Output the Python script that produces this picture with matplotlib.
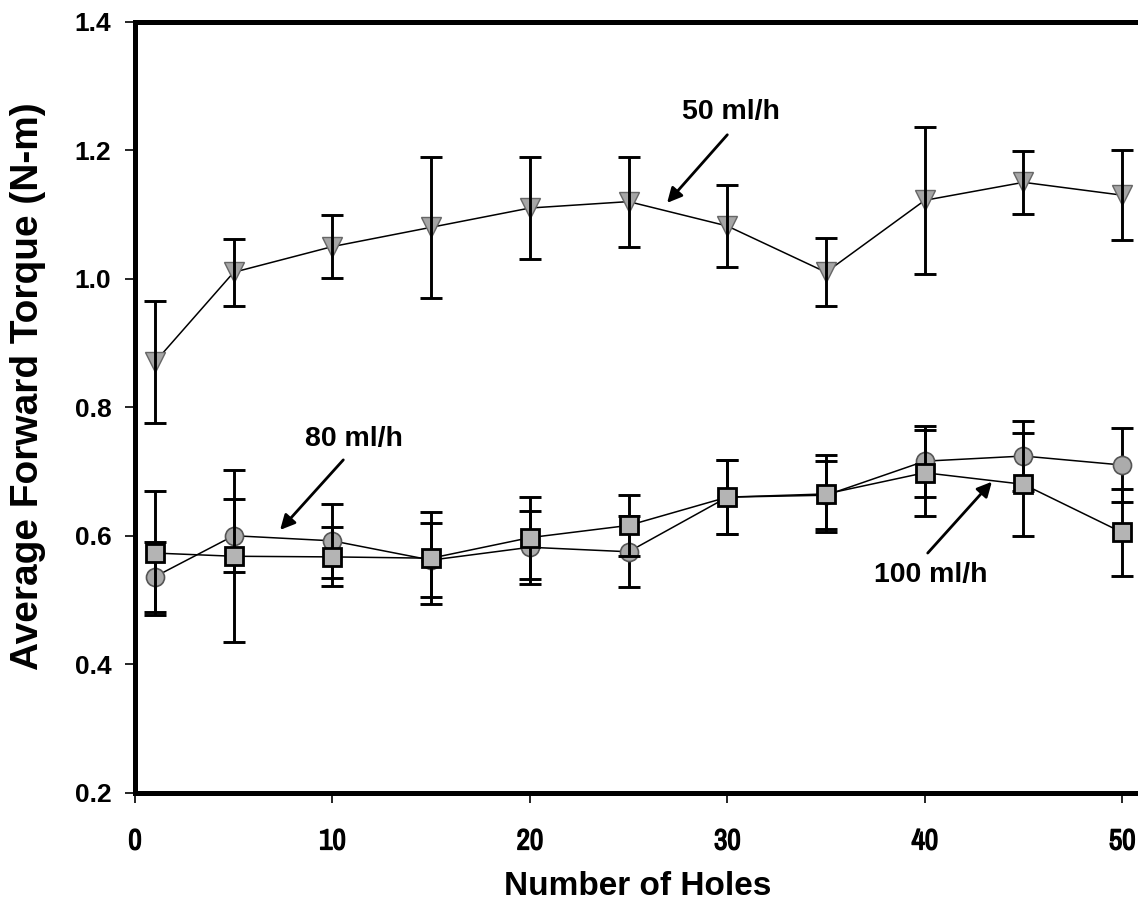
import matplotlib
matplotlib.use("Agg")
import matplotlib.pyplot as plt
from matplotlib import font_manager
import matplotlib.patheffects as pe

# ---------------- data ----------------
holes = [1, 5, 10, 15, 20, 25, 30, 35, 40, 45, 50]

torque_50 = [0.870, 1.010, 1.050, 1.080, 1.110, 1.120, 1.082, 1.010, 1.122, 1.150, 1.130]
err_50 = [0.095, 0.052, 0.049, 0.110, 0.080, 0.070, 0.064, 0.053, 0.114, 0.049, 0.070]

torque_80 = [0.536, 0.600, 0.592, 0.562, 0.582, 0.575, 0.660, 0.663, 0.716, 0.724, 0.710]
err_80 = [0.054, 0.057, 0.058, 0.057, 0.057, 0.055, 0.058, 0.053, 0.055, 0.055, 0.058]

torque_100 = [0.573, 0.568, 0.567, 0.565, 0.597, 0.616, 0.660, 0.665, 0.698, 0.680, 0.605]
err_100 = [0.096, 0.134, 0.046, 0.072, 0.064, 0.048, 0.058, 0.060, 0.067, 0.080, 0.068]

x_ticks = [0, 10, 20, 30, 40, 50]
y_ticks = [0.2, 0.4, 0.6, 0.8, 1.0, 1.2, 1.4]

# ---------------- fonts ----------------
avail = {f.name for f in font_manager.fontManager.ttflist}
sans = "Liberation Sans" if "Liberation Sans" in avail else "DejaVu Sans"
narrow = sans
for cand in ["Liberation Sans Narrow", "Arial Narrow", "Archivo Narrow",
             "Roboto Condensed", "Barlow Semi Condensed"]:
    if cand in avail:
        narrow = cand
        break

fig = plt.figure(figsize=(11.38, 9.22), dpi=100)
ax = fig.add_axes([135 / 1138, 1 - 792.7 / 922, 1 - 135 / 1138, (792.7 - 21.7) / 922])

ax.set_xlim(0, 50.8)
ax.set_ylim(0.2, 1.4)

line_kw = dict(color="black", lw=1.1)
eb_kw = dict(fmt="none", ecolor="black", elinewidth=2.1, capsize=8, capthick=2.1)

# 80 ml/h (circles)
ax.errorbar(holes, torque_80, yerr=err_80, zorder=2, **eb_kw)
ax.plot(holes, torque_80, marker="o", ms=13, mfc="#ababab", mec="#555555", mew=1.2,
        zorder=3, **line_kw)

# 100 ml/h (squares)
ax.errorbar(holes, torque_100, yerr=err_100, zorder=4, **eb_kw)
ax.plot(holes, torque_100, marker="s", ms=13, mfc="#b4b4b4", mec="black", mew=2.0,
        zorder=5, **line_kw)

# 50 ml/h (triangles)
ax.plot(holes, torque_50, marker="v", ms=14, mfc="#a6a6a6", mec="#666666", mew=1.0,
        zorder=5, **line_kw)
ax.errorbar(holes, torque_50, yerr=err_50, zorder=6, **eb_kw)

# annotations
arrow = dict(arrowstyle="-|>", color="black", lw=2.0, mutation_scale=22, shrinkA=0, shrinkB=0)
ann_font = dict(family=sans, fontsize=20.5, fontweight="bold", ha="center", va="center")

ax.text(30.2, 1.259, "50 ml/h", **ann_font)
ax.annotate("", xy=(26.95, 1.118), xytext=(30.0, 1.224), arrowprops=arrow)

ax.text(11.1, 0.750, "80 ml/h", **ann_font)
ax.annotate("", xy=(7.35, 0.609), xytext=(10.55, 0.718), arrowprops=arrow)

ax.text(40.3, 0.539, "100 ml/h", **ann_font)
ax.annotate("", xy=(43.4, 0.684), xytext=(40.15, 0.573), arrowprops=arrow)

# axes styling
for side in ["left", "bottom", "top"]:
    ax.spines[side].set_linewidth(3.6)
ax.spines["right"].set_visible(False)

ax.set_xticks(x_ticks)
ax.set_yticks(y_ticks)
ax.set_yticklabels([f"{v:.1f}" for v in y_ticks], family=sans, fontsize=19, fontweight="bold")
ax.set_xticklabels([str(v) for v in x_ticks], family=narrow, fontsize=21, fontweight="bold")
if narrow != sans:
    for lbl in ax.get_xticklabels():
        lbl.set_path_effects([pe.withStroke(linewidth=1.0, foreground="black")])
ax.tick_params(axis="both", direction="out", length=7, width=1.2, top=False, right=False)
ax.tick_params(axis="y", pad=10)
ax.tick_params(axis="x", pad=18)

ax.set_xlabel("Number of Holes", family=sans, fontsize=24, fontweight="bold")
ax.xaxis.set_label_coords((638 - 135) / 1003, (792.7 - 895) / 771)
ax.xaxis.label.set_va("baseline")

ax.set_ylabel("Average Forward Torque (N-m)", family=sans, fontsize=28, fontweight="bold")
ax.yaxis.set_label_coords((28 - 135) / 1003, 0.527)
ax.yaxis.label.set_va("center")

fig.savefig("out.png", dpi=100)
